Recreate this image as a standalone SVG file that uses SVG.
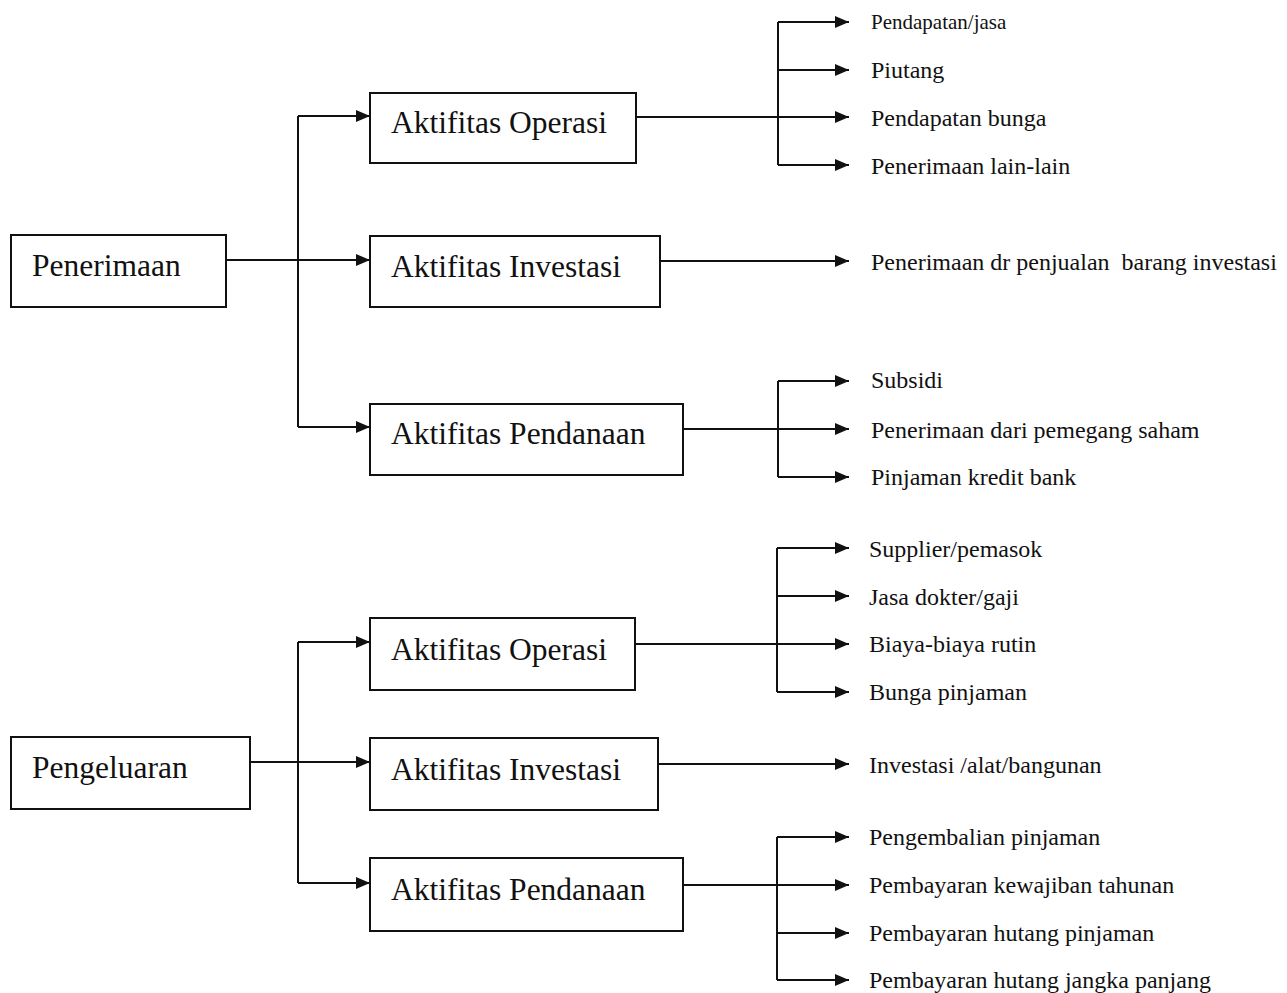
<svg xmlns="http://www.w3.org/2000/svg" width="1287" height="993" viewBox="0 0 1287 993">
  <defs>
    <marker id="arrow" markerUnits="userSpaceOnUse" markerWidth="15" markerHeight="13" refX="14" refY="6.5" orient="auto">
      <path d="M0,0.5 L14,6.5 L0,12.5 z" fill="#111"/>
    </marker>
    <style>
      .box { fill: #fff; stroke: #111; stroke-width: 2; }
      .boxtext { font-family: "Liberation Serif", "Times New Roman", serif; font-size: 31.5px; fill: #111; }
      .label { font-family: "Liberation Serif", "Times New Roman", serif; font-size: 24px; fill: #111; }
      .small { font-size: 21px; }
      .link { fill: none; stroke: #111; stroke-width: 2; }
      .arr { fill: none; stroke: #111; stroke-width: 2; marker-end: url(#arrow); }
    </style>
  </defs>

  <rect width="1287" height="993" fill="#fff"/>

  <!-- connectors -->
  <g id="connectors">
    <!-- receipts: trunk to activities -->
    <line class="link" x1="226" y1="260" x2="298" y2="260"/>
    <line class="link" x1="298" y1="116" x2="298" y2="427"/>
    <line class="arr" x1="298" y1="116" x2="370" y2="116"/>
    <line class="arr" x1="298" y1="260" x2="370" y2="260"/>
    <line class="arr" x1="298" y1="427" x2="370" y2="427"/>

    <!-- receipts: operating -->
    <line class="link" x1="636" y1="117" x2="778" y2="117"/>
    <line class="link" x1="778" y1="22" x2="778" y2="165"/>
    <line class="arr" x1="778" y1="22" x2="849" y2="22"/>
    <line class="arr" x1="778" y1="70" x2="849" y2="70"/>
    <line class="arr" x1="778" y1="117" x2="849" y2="117"/>
    <line class="arr" x1="778" y1="165" x2="849" y2="165"/>

    <!-- receipts: investing -->
    <line class="arr" x1="660" y1="261" x2="849" y2="261"/>

    <!-- receipts: financing -->
    <line class="link" x1="683" y1="429" x2="778" y2="429"/>
    <line class="link" x1="778" y1="381" x2="778" y2="477"/>
    <line class="arr" x1="778" y1="381" x2="849" y2="381"/>
    <line class="arr" x1="778" y1="429" x2="849" y2="429"/>
    <line class="arr" x1="778" y1="477" x2="849" y2="477"/>

    <!-- expenditures: trunk to activities -->
    <line class="link" x1="250" y1="762" x2="298" y2="762"/>
    <line class="link" x1="298" y1="642" x2="298" y2="883"/>
    <line class="arr" x1="298" y1="642" x2="370" y2="642"/>
    <line class="arr" x1="298" y1="762" x2="370" y2="762"/>
    <line class="arr" x1="298" y1="883" x2="370" y2="883"/>

    <!-- expenditures: operating -->
    <line class="link" x1="635" y1="644" x2="777" y2="644"/>
    <line class="link" x1="777" y1="548" x2="777" y2="692"/>
    <line class="arr" x1="777" y1="548" x2="849" y2="548"/>
    <line class="arr" x1="777" y1="596" x2="849" y2="596"/>
    <line class="arr" x1="777" y1="644" x2="849" y2="644"/>
    <line class="arr" x1="777" y1="692" x2="849" y2="692"/>

    <!-- expenditures: investing -->
    <line class="arr" x1="658" y1="764" x2="849" y2="764"/>

    <!-- expenditures: financing -->
    <line class="link" x1="683" y1="885" x2="777" y2="885"/>
    <line class="link" x1="777" y1="837" x2="777" y2="980"/>
    <line class="arr" x1="777" y1="837" x2="849" y2="837"/>
    <line class="arr" x1="777" y1="885" x2="849" y2="885"/>
    <line class="arr" x1="777" y1="933" x2="849" y2="933"/>
    <line class="arr" x1="777" y1="980" x2="849" y2="980"/>
  </g>

  <!-- receipts nodes -->
  <g id="penerimaan">
    <rect class="box" x="11" y="235" width="215" height="72"/>
    <text class="boxtext" x="32" y="276">Penerimaan</text>
  </g>
  <g id="terima-operasi">
    <rect class="box" x="370" y="93" width="266" height="70"/>
    <text class="boxtext" x="391" y="133">Aktifitas Operasi</text>
  </g>
  <g id="terima-investasi">
    <rect class="box" x="370" y="236" width="290" height="71"/>
    <text class="boxtext" x="391" y="277">Aktifitas Investasi</text>
  </g>
  <g id="terima-pendanaan">
    <rect class="box" x="370" y="404" width="313" height="71"/>
    <text class="boxtext" x="391" y="444">Aktifitas Pendanaan</text>
  </g>

  <!-- receipts items -->
  <g id="item-pendapatan-jasa"><text class="label small" x="871" y="29">Pendapatan/jasa</text></g>
  <g id="item-piutang"><text class="label" x="871" y="78">Piutang</text></g>
  <g id="item-pendapatan-bunga"><text class="label" x="871" y="126">Pendapatan bunga</text></g>
  <g id="item-penerimaan-lain"><text class="label" x="871" y="174">Penerimaan lain-lain</text></g>
  <g id="item-penjualan-investasi"><text class="label" x="871" y="270" xml:space="preserve">Penerimaan dr penjualan  barang investasi</text></g>
  <g id="item-subsidi"><text class="label" x="871" y="388">Subsidi</text></g>
  <g id="item-pemegang-saham"><text class="label" x="871" y="438">Penerimaan dari pemegang saham</text></g>
  <g id="item-kredit-bank"><text class="label" x="871" y="485">Pinjaman kredit bank</text></g>

  <!-- expenditure nodes -->
  <g id="pengeluaran">
    <rect class="box" x="11" y="737" width="239" height="72"/>
    <text class="boxtext" x="32" y="778">Pengeluaran</text>
  </g>
  <g id="keluar-operasi">
    <rect class="box" x="370" y="618" width="265" height="72"/>
    <text class="boxtext" x="391" y="660">Aktifitas Operasi</text>
  </g>
  <g id="keluar-investasi">
    <rect class="box" x="370" y="738" width="288" height="72"/>
    <text class="boxtext" x="391" y="780">Aktifitas Investasi</text>
  </g>
  <g id="keluar-pendanaan">
    <rect class="box" x="370" y="858" width="313" height="73"/>
    <text class="boxtext" x="391" y="900">Aktifitas Pendanaan</text>
  </g>

  <!-- expenditure items -->
  <g id="item-supplier"><text class="label" x="869" y="557">Supplier/pemasok</text></g>
  <g id="item-jasa-dokter"><text class="label" x="869" y="605">Jasa dokter/gaji</text></g>
  <g id="item-biaya-rutin"><text class="label" x="869" y="652">Biaya-biaya rutin</text></g>
  <g id="item-bunga-pinjaman"><text class="label" x="869" y="700">Bunga pinjaman</text></g>
  <g id="item-investasi-alat"><text class="label" x="869" y="773">Investasi /alat/bangunan</text></g>
  <g id="item-pengembalian"><text class="label" x="869" y="845">Pengembalian pinjaman</text></g>
  <g id="item-kewajiban"><text class="label" x="869" y="893">Pembayaran kewajiban tahunan</text></g>
  <g id="item-hutang-pinjaman"><text class="label" x="869" y="941">Pembayaran hutang pinjaman</text></g>
  <g id="item-jangka-panjang"><text class="label" x="869" y="988">Pembayaran hutang jangka panjang</text></g>
</svg>
